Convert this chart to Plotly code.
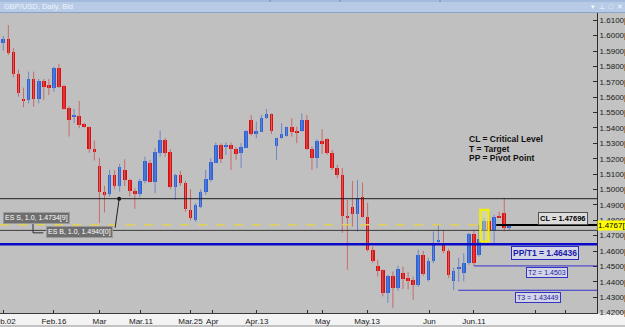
import plotly.graph_objects as go

# ---------------- data (GBP/USD daily) ----------------
opens = [1.5950, 1.5976, 1.5892, 1.5751, 1.5588, 1.5582, 1.5718, 1.5588, 1.5705, 1.5679,
         1.5658, 1.5788, 1.5673, 1.5530, 1.5473, 1.5480, 1.5424, 1.5408, 1.5264, 1.5153,
         1.4982, 1.4971, 1.5095, 1.5023, 1.5127, 1.5062, 1.4993, 1.4971, 1.5056, 1.5171,
         1.5051, 1.5240, 1.5322, 1.5242, 1.5015, 1.5095, 1.5045, 1.4868, 1.4803, 1.4889,
         1.4986, 1.5062, 1.5175, 1.5290, 1.5279, 1.5290, 1.5262, 1.5236, 1.5272, 1.5452,
         1.5359, 1.5376, 1.5463, 1.5491, 1.5285, 1.5333, 1.5348, 1.5405, 1.5376, 1.5382,
         1.5452, 1.5262, 1.5203, 1.5316, 1.5329, 1.5240, 1.5142, 1.5095, 1.4829, 1.4885,
         1.4842, 1.4950, 1.4824, 1.4608, 1.4504, 1.4478, 1.4327, 1.4439, 1.4359, 1.4460,
         1.4424, 1.4413, 1.4381, 1.4575, 1.4413, 1.4532, 1.4660, 1.4640, 1.4603, 1.4402,
         1.4485, 1.4456, 1.4521, 1.4712, 1.4575, 1.4733, 1.4796, 1.4727, 1.4824, 1.4850,
         1.4748]
highs = [1.5997, 1.6069, 1.5918, 1.5777, 1.5662, 1.5766, 1.5766, 1.5718, 1.5718, 1.5718,
         1.5798, 1.5816, 1.5679, 1.5543, 1.5523, 1.5575, 1.5434, 1.5410, 1.5318, 1.5205,
         1.5023, 1.5127, 1.5127, 1.5166, 1.5197, 1.5069, 1.5010, 1.5069, 1.5214, 1.5192,
         1.5268, 1.5382, 1.5335, 1.5262, 1.5101, 1.5121, 1.5056, 1.5002, 1.4913, 1.5000,
         1.5127, 1.5203, 1.5305, 1.5301, 1.5305, 1.5305, 1.5277, 1.5301, 1.5387, 1.5484,
         1.5441, 1.5484, 1.5523, 1.5495, 1.5337, 1.5431, 1.5408, 1.5463, 1.5408, 1.5495,
         1.5484, 1.5279, 1.5327, 1.5392, 1.5333, 1.5257, 1.5160, 1.5140, 1.4932, 1.5056,
         1.5062, 1.5045, 1.4913, 1.4629, 1.4543, 1.4480, 1.4445, 1.4467, 1.4504, 1.4499,
         1.4465, 1.4434, 1.4608, 1.4601, 1.4556, 1.4727, 1.4770, 1.4738, 1.4614, 1.4491,
         1.4556, 1.4586, 1.4718, 1.4738, 1.4770, 1.4814, 1.4850, 1.4835, 1.4856, 1.4945,
         1.4777]
lows = [1.5902, 1.5874, 1.5729, 1.5603, 1.5534, 1.5560, 1.5538, 1.5560, 1.5582, 1.5614,
        1.5636, 1.5658, 1.5517, 1.5344, 1.5431, 1.5398, 1.5398, 1.5238, 1.5188, 1.4783,
        1.4850, 1.4954, 1.5002, 1.4986, 1.5023, 1.4954, 1.4874, 1.4950, 1.5041, 1.5045,
        1.4976, 1.5214, 1.5214, 1.5002, 1.4932, 1.5023, 1.4855, 1.4798, 1.4790, 1.4880,
        1.4965, 1.5051, 1.5171, 1.5171, 1.5225, 1.5127, 1.5192, 1.5138, 1.5270, 1.5350,
        1.5333, 1.5374, 1.5458, 1.5361, 1.5192, 1.5329, 1.5343, 1.5343, 1.5301, 1.5376,
        1.5257, 1.5127, 1.5138, 1.5231, 1.5225, 1.5127, 1.5073, 1.4718, 1.4478, 1.4759,
        1.4725, 1.4816, 1.4597, 1.4521, 1.4434, 1.4305, 1.4262, 1.4229, 1.4342, 1.4353,
        1.4350, 1.4283, 1.4366, 1.4439, 1.4402, 1.4521, 1.4640, 1.4586, 1.4425, 1.4345,
        1.4400, 1.4402, 1.4510, 1.4503, 1.4564, 1.4651, 1.4716, 1.4651, 1.4816, 1.4727,
        1.4738]
closes = [1.5976, 1.5885, 1.5751, 1.5625, 1.5577, 1.5718, 1.5588, 1.5707, 1.5664, 1.5658,
          1.5792, 1.5664, 1.5521, 1.5452, 1.5484, 1.5419, 1.5405, 1.5262, 1.5244, 1.4982,
          1.4965, 1.5095, 1.5023, 1.5145, 1.5062, 1.4993, 1.4971, 1.5056, 1.5186, 1.5051,
          1.5242, 1.5322, 1.5236, 1.5015, 1.5095, 1.5045, 1.4872, 1.4814, 1.4900, 1.4986,
          1.5067, 1.5177, 1.5290, 1.5197, 1.5290, 1.5262, 1.5231, 1.5275, 1.5381, 1.5359,
          1.5381, 1.5463, 1.5491, 1.5382, 1.5333, 1.5359, 1.5405, 1.5372, 1.5369, 1.5452,
          1.5262, 1.5203, 1.5316, 1.5294, 1.5240, 1.5142, 1.5095, 1.4829, 1.4814, 1.4842,
          1.4945, 1.4824, 1.4608, 1.4532, 1.4467, 1.4327, 1.4439, 1.4359, 1.4482, 1.4418,
          1.4407, 1.4381, 1.4575, 1.4452, 1.4532, 1.4640, 1.4673, 1.4603, 1.4445, 1.4467,
          1.4495, 1.4521, 1.4712, 1.4521, 1.4677, 1.4796, 1.4727, 1.4824, 1.4820, 1.4749,
          1.4767]
bar_index = list(range(len(opens)))

date_tick_pos = [0, 10, 19, 27.2, 37, 41.3, 50.1, 60.1, 63.1, 71.9, 84.2, 93, 105.1, 111.1]
date_tick_text = ["Feb.02", "Feb.16", "Mar", "Mar.11", "Mar.25", "Apr", "Apr.13", "",
                  "May", "May.13", "Jun", "Jun.11", "", ""]
price_ticks = [1.42, 1.43, 1.44, 1.45, 1.46, 1.47, 1.48, 1.49, 1.50, 1.51,
               1.52, 1.53, 1.54, 1.55, 1.56, 1.57, 1.58, 1.59, 1.60, 1.61]
price_tick_text = [f"{v:.4f}[0]" for v in price_ticks]

# levels drawn on the chart
es_b = 1.4940
es_s = 1.4734
alert_level = 1.4770
cl_level = 1.47696
pp_t1 = 1.46436
t2_level = 1.4503
t3_level = 1.43449
last_price = 1.4767
es_b_bar = 22.9
highlight_bar = 95
cl_start_bar = 97.4
t2_start_bar = 93
t3_start_bar = 89.9
alert_end_bar = 94

# ---------------- figure ----------------
W, H = 625, 327
ML, MR, MT, MB = 0, 28, 13, 14
PW, PH = W - ML - MR, H - MT - MB
XR = [-0.65, 117.33]
YR = [1.4197, 1.6147]
FONT = "Liberation Sans, Arial, sans-serif"

def px_x(px):
    return (px - ML) / PW

def px_y(py):
    return (H - MB - py) / PH

UP_BODY, DN_BODY = "#2a62dc", "#e00b0b"
UP_WICK, DN_WICK = "#6f86c4", "#c86a6a"

fig = go.Figure()

for up, wcol in ((True, UP_WICK), (False, DN_WICK)):
    xs, ys = [], []
    for i, o, h, l, c in zip(bar_index, opens, highs, lows, closes):
        if (c >= o) == up:
            xs += [i, i, None]
            ys += [l, h, None]
    fig.add_trace(go.Scatter(x=xs, y=ys, mode="lines", line=dict(color=wcol, width=1),
                             hoverinfo="skip", showlegend=False))

fig.add_trace(go.Bar(
    x=bar_index,
    base=[min(o, c) for o, c in zip(opens, closes)],
    y=[abs(c - o) for o, c in zip(opens, closes)],
    width=0.72,
    marker=dict(color=[UP_BODY if c >= o else DN_BODY for o, c in zip(opens, closes)],
                line=dict(width=0)),
    hoverinfo="skip", showlegend=False))

fig.add_trace(go.Scatter(x=[es_b_bar], y=[es_b], mode="markers",
                         marker=dict(color="#101010", size=4), hoverinfo="skip",
                         showlegend=False))

shapes = []
# window chrome: title bar
shapes.append(dict(type="rect", xref="paper", yref="paper", x0=0, x1=px_x(W),
                   y0=px_y(0), y1=px_y(2), fillcolor="#a3bbdd", line_width=0, layer="below"))
shapes.append(dict(type="rect", xref="paper", yref="paper", x0=0, x1=px_x(W),
                   y0=px_y(2), y1=px_y(12), fillcolor="#b7cbe7", line_width=0, layer="below"))
shapes.append(dict(type="line", xref="paper", yref="paper", x0=0, x1=px_x(W),
                   y0=px_y(12.5), y1=px_y(12.5), line=dict(color="#8ca3c9", width=1), layer="below"))
for sx in (270, 340, 440):
    shapes.append(dict(type="line", xref="paper", yref="paper", x0=px_x(sx), x1=px_x(sx),
                       y0=px_y(0), y1=px_y(2), line=dict(color="#6f8ab8", width=1), layer="below"))
# x-axis strip
shapes.append(dict(type="rect", xref="paper", yref="paper", x0=0, x1=px_x(W),
                   y0=px_y(313.5), y1=px_y(325), fillcolor="#f3f3f3", line_width=0, layer="below"))

# levels
shapes.append(dict(type="line", xref="paper", yref="y", x0=0, x1=1, y0=es_b, y1=es_b,
                   line=dict(color="#1c1c1c", width=1)))
shapes.append(dict(type="line", xref="paper", yref="y", x0=0, x1=1, y0=es_s, y1=es_s,
                   line=dict(color="#3c3c3c", width=1)))
shapes.append(dict(type="line", xref="x", yref="y", x0=XR[0], x1=alert_end_bar,
                   y0=alert_level, y1=alert_level,
                   line=dict(color="#e2cf55", width=1.5, dash="dash")))
shapes.append(dict(type="line", xref="paper", yref="y", x0=0, x1=1, y0=pp_t1, y1=pp_t1,
                   line=dict(color="#0a0ac8", width=2.5)))
shapes.append(dict(type="line", xref="x", yref="y", x0=cl_start_bar, x1=XR[1],
                   y0=cl_level, y1=cl_level, line=dict(color="#000000", width=2)))
shapes.append(dict(type="line", xref="x", yref="y", x0=t2_start_bar, x1=XR[1],
                   y0=t2_level, y1=t2_level, line=dict(color="#3434cc", width=1)))
shapes.append(dict(type="line", xref="x", yref="y", x0=t3_start_bar, x1=XR[1],
                   y0=t3_level, y1=t3_level, line=dict(color="#3434cc", width=1)))
# highlight box
shapes.append(dict(type="rect", xref="x", yref="y", x0=highlight_bar - 0.75,
                   x1=highlight_bar + 0.9, y0=1.4662, y1=1.4868,
                   fillcolor="rgba(255,255,120,0.35)", line=dict(color="#f4f000", width=2)))
# order-label connectors
shapes.append(dict(type="line", xref="x", yref="y", x0=es_b_bar, x1=22.1,
                   y0=es_b, y1=1.4751, line=dict(color="#202020", width=1)))
shapes.append(dict(type="line", xref="x", yref="y", x0=5.87, x1=5.87,
                   y0=1.4783, y1=1.4718, line=dict(color="#303030", width=1)))
shapes.append(dict(type="line", xref="x", yref="y", x0=5.87, x1=7.9,
                   y0=1.4718, y1=1.4718, line=dict(color="#303030", width=1)))

ann = []
ann.append(dict(text="GBP/USD, Daily, Bid", xref="paper", yref="paper", x=px_x(2),
                y=px_y(7), xanchor="left", yanchor="middle", showarrow=False,
                font=dict(family=FONT, size=7.5, color="#eef3fa")))
ann.append(dict(text="▾  ⊥  □  ✕", xref="paper", yref="paper", x=px_x(589),
                y=px_y(6.5), xanchor="left", yanchor="middle", showarrow=False,
                font=dict(family=FONT, size=7, color="#f4f8fc")))
for txt, yv in (("CL = Critical Level", 1.53286), ("T = Target", 1.52636),
                ("PP = Pivot Point", 1.52052)):
    ann.append(dict(text=f"<b>{txt}</b>", x=91.6, y=yv, xanchor="left", yanchor="middle",
                    showarrow=False, font=dict(family=FONT, size=8.5, color="#111111")))
ann.append(dict(text="ES S, 1.0, 1.4734[9]", x=6.6, y=1.48123, xanchor="center",
                yanchor="middle", showarrow=False, bgcolor="#6e6e6e", bordercolor="#9a9a9a",
                borderwidth=1, borderpad=1, font=dict(family=FONT, size=7, color="#ffffff")))
ann.append(dict(text="ES B, 1.0, 1.4940[0]", x=15.1, y=1.47248, xanchor="center",
                yanchor="middle", showarrow=False, bgcolor="#6e6e6e", bordercolor="#9a9a9a",
                borderwidth=1, borderpad=1, font=dict(family=FONT, size=7, color="#ffffff")))
ann.append(dict(text="<b>CL = 1.47696</b>", x=110.6, y=1.48091, xanchor="center",
                yanchor="middle", showarrow=False, bgcolor="#dcdcdc", bordercolor="#505050",
                borderwidth=1, borderpad=1, font=dict(family=FONT, size=7.5, color="#000000")))
ann.append(dict(text="<b>PP/T1 = 1.46436</b>", x=107.1, y=1.45883, xanchor="center",
                yanchor="middle", showarrow=False, bgcolor="#d4d6e6", bordercolor="#2a2ac0",
                borderwidth=1, borderpad=1, font=dict(family=FONT, size=8.5, color="#1a1aa8")))
ann.append(dict(text="T2 = 1.4503", x=107.4, y=1.44617, xanchor="center",
                yanchor="middle", showarrow=False, bgcolor="#d4d6e6", bordercolor="#3434c0",
                borderwidth=1, borderpad=1, font=dict(family=FONT, size=7, color="#1a1aa8")))
ann.append(dict(text="T3 = 1.43449", x=105.7, y=1.42961, xanchor="center",
                yanchor="middle", showarrow=False, bgcolor="#d4d6e6", bordercolor="#3434c0",
                borderwidth=1, borderpad=1, font=dict(family=FONT, size=7, color="#1a1aa8")))
ann.append(dict(text="1.4767[1]", xref="paper", x=1.0, y=last_price, xanchor="left",
                yanchor="middle", showarrow=False, bgcolor="#ffff00", borderpad=0,
                font=dict(family=FONT, size=8, color="#000000")))

fig.update_layout(
    width=W, height=H,
    margin=dict(l=ML, r=MR, t=MT, b=MB, pad=0, autoexpand=False),
    paper_bgcolor="#c3c3c3", plot_bgcolor="#c0c0c0",
    barmode="overlay", bargap=0, showlegend=False,
    font=dict(family=FONT, size=8, color="#202020"),
    shapes=shapes, annotations=ann,
    xaxis=dict(range=XR, showgrid=False, zeroline=False, showline=True, automargin=False,
               linecolor="#3a3a3a", linewidth=1, ticks="inside", ticklen=3,
               tickcolor="#303030", tickvals=date_tick_pos, ticktext=date_tick_text,
               ticklabeloverflow="allow",
               tickfont=dict(family=FONT, size=8, color="#1a1a1a"), fixedrange=True),
    yaxis=dict(range=YR, side="right", showgrid=False, zeroline=False, showline=True,
               automargin=False,
               linecolor="#2a2a2a", linewidth=1, ticks="inside", ticklen=4,
               tickcolor="#2a2a2a", tickvals=price_ticks, ticktext=price_tick_text,
               ticklabeloverflow="allow",
               tickfont=dict(family=FONT, size=8, color="#1a1a1a"), fixedrange=True),
)

fig.write_html("out.html", config={"displayModeBar": False})
